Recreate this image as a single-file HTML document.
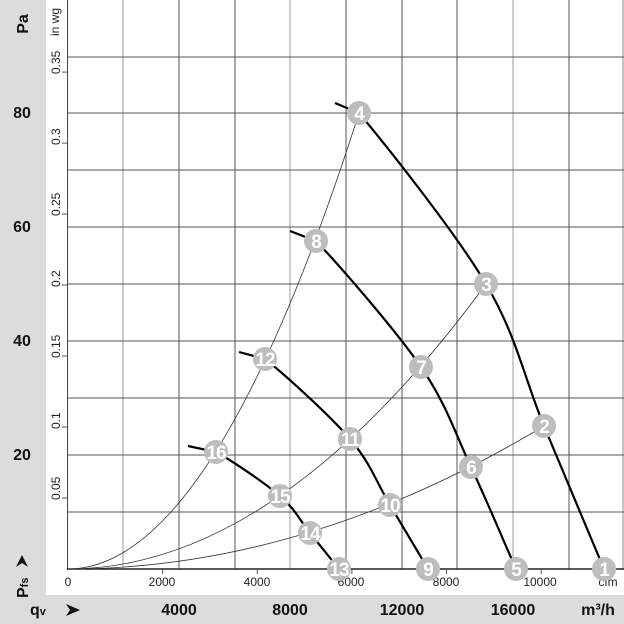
<!DOCTYPE html>
<html><head><meta charset="utf-8"><style>
html,body{margin:0;padding:0;background:#fff}
svg{display:block;font-family:"Liberation Sans",sans-serif}
</style></head><body>
<svg id="s" width="624" height="624" viewBox="0 0 624 624" xmlns="http://www.w3.org/2000/svg">
<rect x="0" y="0" width="624" height="624" fill="#fff"/>
<rect x="0" y="0" width="46" height="624" fill="#dcdcdc"/>
<rect x="0" y="595" width="624" height="29" fill="#dcdcdc"/>
<g stroke="#555" stroke-width="1">
<line x1="123" y1="0" x2="123" y2="569" stroke="#999"/>
<line x1="179" y1="0" x2="179" y2="569"/>
<line x1="235" y1="0" x2="235" y2="569"/>
<line x1="290" y1="0" x2="290" y2="569" stroke="#999"/>
<line x1="346" y1="0" x2="346" y2="569"/>
<line x1="402" y1="0" x2="402" y2="569"/>
<line x1="457" y1="0" x2="457" y2="569"/>
<line x1="513" y1="0" x2="513" y2="569" stroke="#999"/>
<line x1="569" y1="0" x2="569" y2="569"/>
<line x1="623" y1="0" x2="623" y2="569" stroke="#888"/>
<line x1="67" y1="57" x2="624" y2="57"/>
<line x1="67" y1="113" x2="624" y2="113"/>
<line x1="67" y1="170" x2="624" y2="170"/>
<line x1="67" y1="227" x2="624" y2="227"/>
<line x1="67" y1="284" x2="624" y2="284"/>
<line x1="67" y1="341" x2="624" y2="341"/>
<line x1="67" y1="398" x2="624" y2="398"/>
<line x1="67" y1="455" x2="624" y2="455"/>
<line x1="67" y1="512" x2="624" y2="512"/>
<line x1="67.5" y1="0" x2="67.5" y2="570" stroke="#444"/>
</g>
<line x1="67" y1="569" x2="624" y2="569" stroke="#222" stroke-width="1.5"/>
<g stroke="#555" stroke-width="1" id="ticks"></g>
<g font-size="12" fill="#222" id="wg"></g>
<text x="0" y="0" transform="translate(59,36) rotate(-90)" font-size="12" fill="#222">in wg</text>
<g font-size="12" fill="#222" text-anchor="middle">
<text x="68" y="586">0</text><text x="162" y="586">2000</text><text x="257" y="586">4000</text>
<text x="351" y="586">6000</text><text x="446" y="586">8000</text><text x="540" y="586">10000</text>
<text x="608" y="586">cfm</text>
</g>
<g font-size="16" font-weight="bold" fill="#111" text-anchor="middle">
<text x="22" y="118">80</text><text x="22" y="232">60</text><text x="22" y="346">40</text><text x="22" y="460">20</text>
<text x="179" y="615">4000</text><text x="290" y="615">8000</text><text x="402" y="615">12000</text><text x="513" y="615">16000</text>
<text x="598" y="615">m³/h</text>
<text x="0" y="0" transform="translate(28,24) rotate(-90)">Pa</text>
<text x="0" y="0" transform="translate(28,598) rotate(-90)" text-anchor="start">P<tspan font-size="11">fs</tspan></text>
<text x="30" y="615" text-anchor="start">q<tspan font-size="11">v</tspan></text>
</g>
<path d="M16,555 L28,561 L16,567 L20,561Z" transform="rotate(-90 22 561)" fill="#111"/>
<path d="M66,604 L80,610 L66,616 L70,610Z" fill="#111"/>
<g fill="none" stroke="#333" stroke-width="0.8">
<path d="M68,569 Q213.5,569 359,113"/>
<path d="M68,569 Q277,569 486,284"/>
<path d="M68,569 Q306,569 544,426"/>
</g>
<g fill="none" stroke="#000" stroke-width="2.2" id="fans"></g>
<g id="mk"></g>
</svg>
<script>
var ns="http://www.w3.org/2000/svg";
function cr(s,p){var d="M"+s[0]+","+s[1]+" L"+p[0][0]+","+p[0][1];for(var i=0;i<p.length-1;i++){var a=p[i-1]||s,b=p[i],c=p[i+1],e=p[i+2]||[2*c[0]-b[0],2*c[1]-b[1]];
d+=" C"+(b[0]+(c[0]-a[0])/6)+","+(b[1]+(c[1]-a[1])/6)+" "+(c[0]-(e[0]-b[0])/6)+","+(c[1]-(e[1]-b[1])/6)+" "+c[0]+","+c[1];}return d;}
var fans=[[[335,103],[[359,113],[486,284],[544,426],[604,569]]],
[[290,231],[[316,241],[421,367],[471,467],[516,569]]],
[[239,352],[[265,359],[350,439],[390,505],[428,569]]],
[[188,446],[[216,452],[280,496],[310,533],[339,569]]]];
var g=document.getElementById("fans");
fans.forEach(function(f){var p=document.createElementNS(ns,"path");p.setAttribute("d",cr(f[0],f[1]));g.appendChild(p);});
var m=[[1,604,569],[2,544,426],[3,486,284],[4,359,113],[5,516,569],[6,471,467],[7,421,367],[8,316,241],
[9,428,569],[10,390,505],[11,350,439],[12,265,359],[13,339,569],[14,310,533],[15,280,496],[16,216,452]];
var mk=document.getElementById("mk");
m.forEach(function(a){var c=document.createElementNS(ns,"circle");c.setAttribute("cx",a[1]);c.setAttribute("cy",a[2]);c.setAttribute("r",12);c.setAttribute("fill","#bdbdbd");mk.appendChild(c);
var t=document.createElementNS(ns,"text");t.setAttribute("x",a[1]);t.setAttribute("y",a[2]+7);t.setAttribute("text-anchor","middle");t.setAttribute("font-size","19");t.setAttribute("font-weight","bold");t.setAttribute("fill","#fff");t.setAttribute("letter-spacing","-1");t.textContent=a[0];mk.appendChild(t);});
var tk=document.getElementById("ticks"),wg=document.getElementById("wg");
[0.05,0.1,0.15,0.2,0.25,0.3,0.35].forEach(function(v){var y=569-v*249.089*5.7;
var l=document.createElementNS(ns,"line");l.setAttribute("x1",62);l.setAttribute("x2",67);l.setAttribute("y1",y);l.setAttribute("y2",y);tk.appendChild(l);
var t=document.createElementNS(ns,"text");t.setAttribute("transform","translate(60,"+(y+2)+") rotate(-90)");t.textContent=String(v);wg.appendChild(t);});
[2000,4000,6000,8000,10000].forEach(function(v){var x=68+v*1.699/2000*55.7;var l=document.createElementNS(ns,"line");l.setAttribute("x1",x);l.setAttribute("x2",x);l.setAttribute("y1",569);l.setAttribute("y2",574);tk.appendChild(l);});
</script>
</body></html>
